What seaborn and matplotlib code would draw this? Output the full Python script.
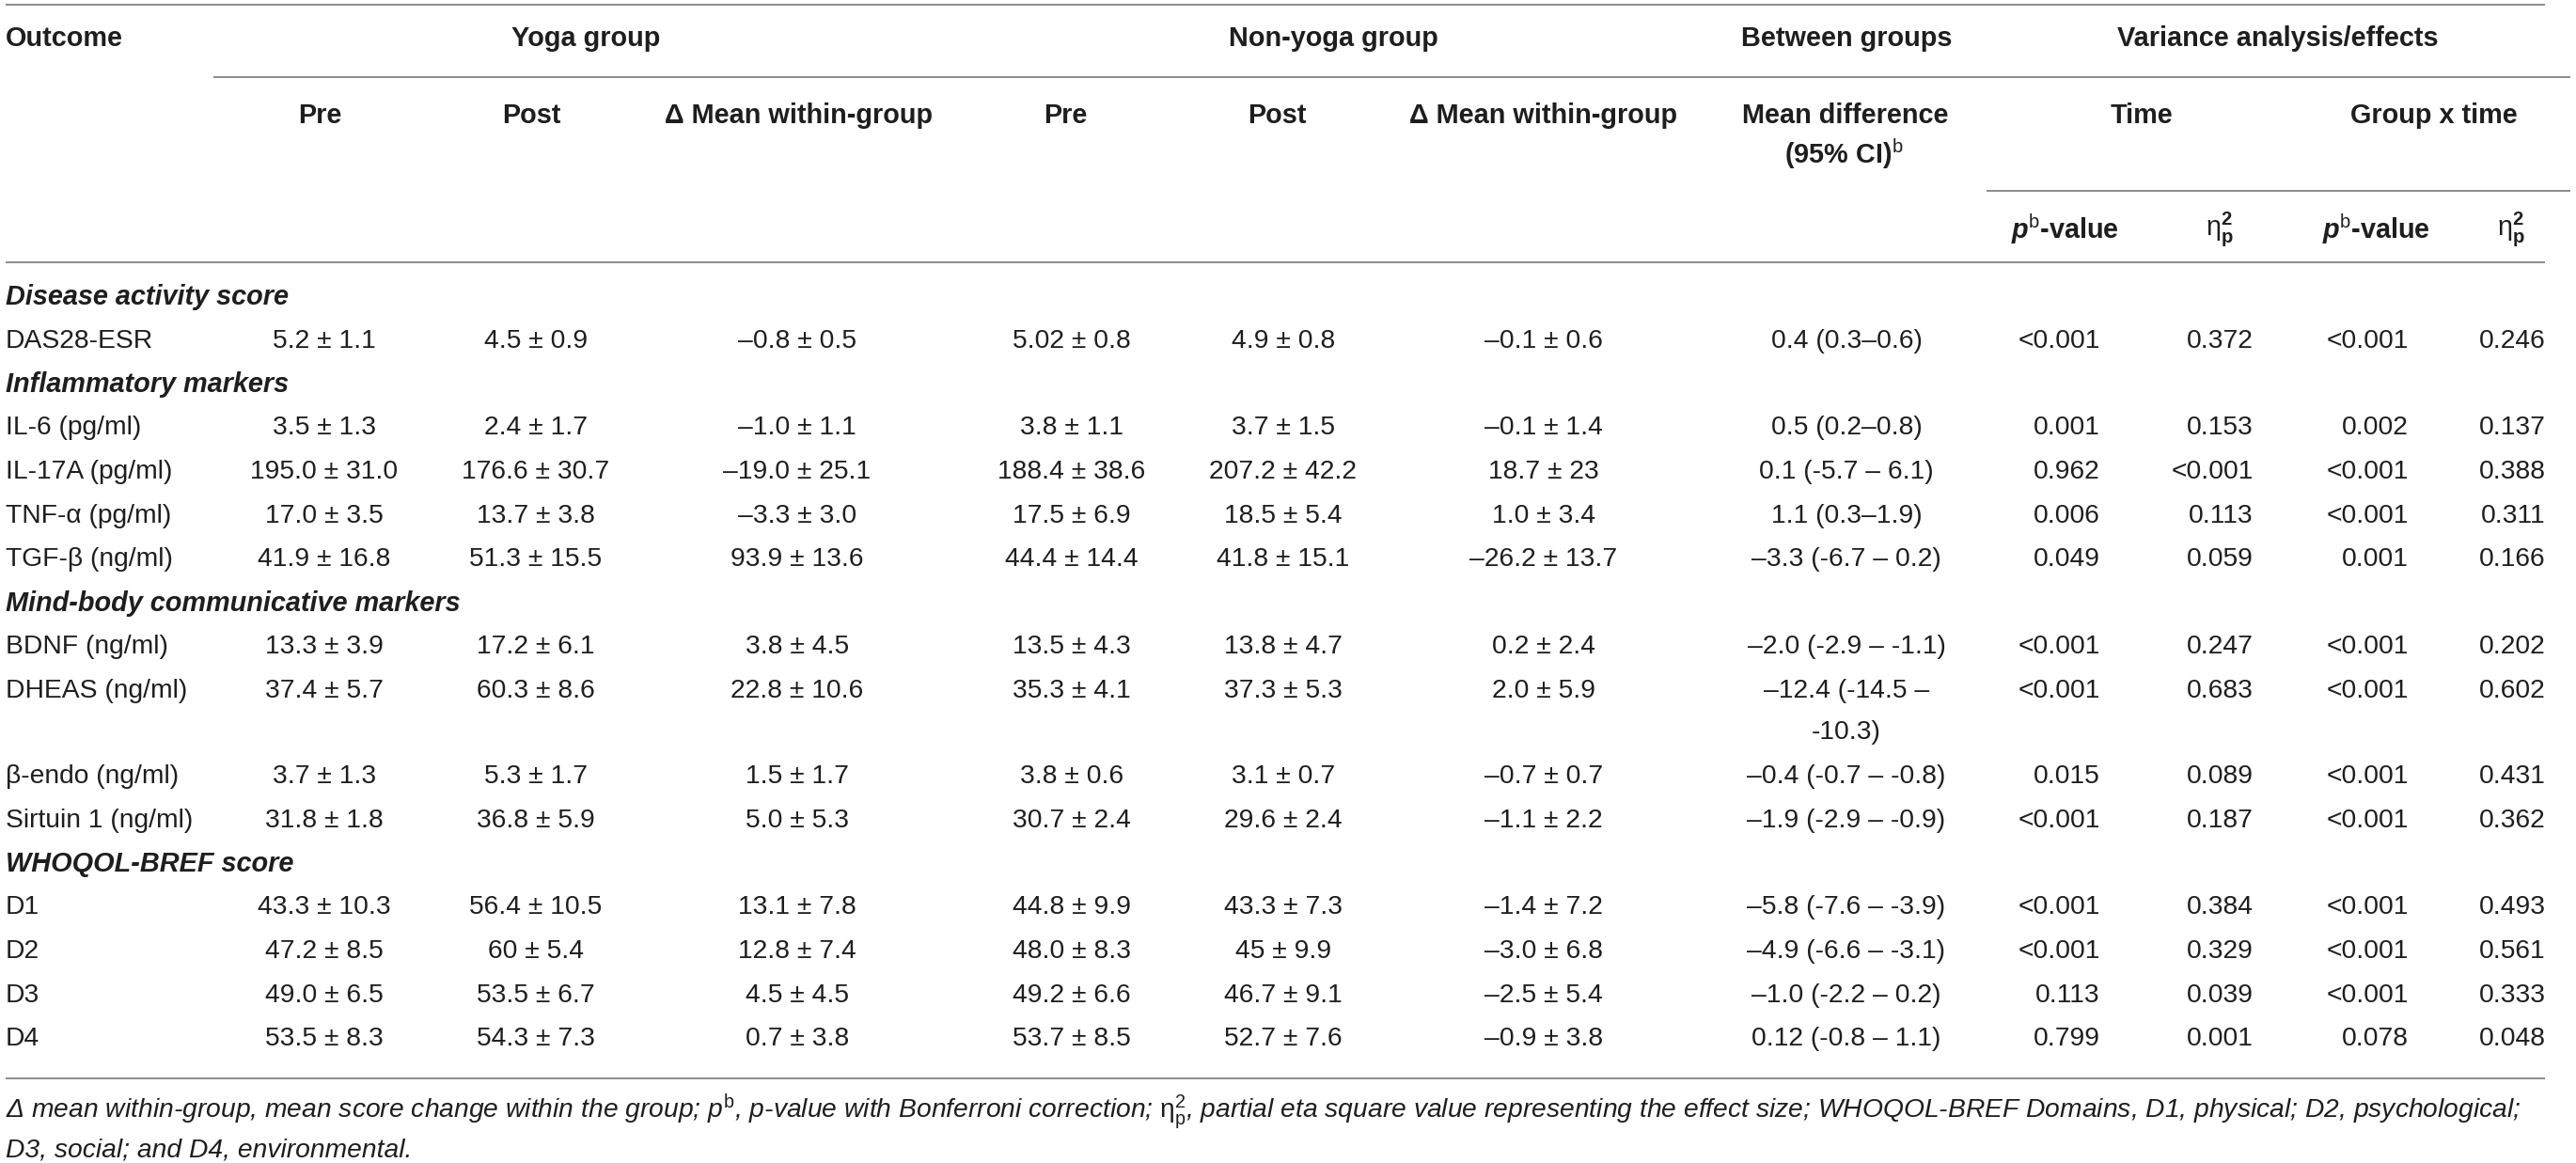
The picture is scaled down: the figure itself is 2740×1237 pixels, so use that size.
import matplotlib
matplotlib.use("Agg")
import matplotlib.pyplot as plt
import seaborn as sns

sns.set_theme(style="white")
plt.rcParams['font.family'] = ['Liberation Sans', 'DejaVu Sans']
plt.rcParams['mathtext.fontset'] = 'custom'
plt.rcParams['mathtext.rm'] = 'Liberation Sans'
plt.rcParams['mathtext.it'] = 'Liberation Sans:italic'
plt.rcParams['mathtext.bf'] = 'Liberation Sans:bold'
plt.rcParams['mathtext.bfit'] = 'Liberation Sans:bold:italic'

# ---------------- data ----------------
outcome = ["Disease activity score", "DAS28-ESR",
           "Inflammatory markers", "IL-6 (pg/ml)", "IL-17A (pg/ml)", "TNF-α (pg/ml)", "TGF-β (ng/ml)",
           "Mind-body communicative markers", "BDNF (ng/ml)", "DHEAS (ng/ml)", "β-endo (ng/ml)", "Sirtuin 1 (ng/ml)",
           "WHOQOL-BREF score", "D1", "D2", "D3", "D4"]
is_section = [True, False, True, False, False, False, False, True, False, False, False, False,
              True, False, False, False, False]
yoga_pre = ["", "5.2 ± 1.1", "", "3.5 ± 1.3", "195.0 ± 31.0", "17.0 ± 3.5", "41.9 ± 16.8", "",
            "13.3 ± 3.9", "37.4 ± 5.7", "3.7 ± 1.3", "31.8 ± 1.8", "",
            "43.3 ± 10.3", "47.2 ± 8.5", "49.0 ± 6.5", "53.5 ± 8.3"]
yoga_post = ["", "4.5 ± 0.9", "", "2.4 ± 1.7", "176.6 ± 30.7", "13.7 ± 3.8", "51.3 ± 15.5", "",
             "17.2 ± 6.1", "60.3 ± 8.6", "5.3 ± 1.7", "36.8 ± 5.9", "",
             "56.4 ± 10.5", "60 ± 5.4", "53.5 ± 6.7", "54.3 ± 7.3"]
yoga_delta = ["", "–0.8 ± 0.5", "", "–1.0 ± 1.1", "–19.0 ± 25.1", "–3.3 ± 3.0", "93.9 ± 13.6", "",
              "3.8 ± 4.5", "22.8 ± 10.6", "1.5 ± 1.7", "5.0 ± 5.3", "",
              "13.1 ± 7.8", "12.8 ± 7.4", "4.5 ± 4.5", "0.7 ± 3.8"]
non_pre = ["", "5.02 ± 0.8", "", "3.8 ± 1.1", "188.4 ± 38.6", "17.5 ± 6.9", "44.4 ± 14.4", "",
           "13.5 ± 4.3", "35.3 ± 4.1", "3.8 ± 0.6", "30.7 ± 2.4", "",
           "44.8 ± 9.9", "48.0 ± 8.3", "49.2 ± 6.6", "53.7 ± 8.5"]
non_post = ["", "4.9 ± 0.8", "", "3.7 ± 1.5", "207.2 ± 42.2", "18.5 ± 5.4", "41.8 ± 15.1", "",
            "13.8 ± 4.7", "37.3 ± 5.3", "3.1 ± 0.7", "29.6 ± 2.4", "",
            "43.3 ± 7.3", "45 ± 9.9", "46.7 ± 9.1", "52.7 ± 7.6"]
non_delta = ["", "–0.1 ± 0.6", "", "–0.1 ± 1.4", "18.7 ± 23", "1.0 ± 3.4", "–26.2 ± 13.7", "",
             "0.2 ± 2.4", "2.0 ± 5.9", "–0.7 ± 0.7", "–1.1 ± 2.2", "",
             "–1.4 ± 7.2", "–3.0 ± 6.8", "–2.5 ± 5.4", "–0.9 ± 3.8"]
mean_diff = ["", "0.4 (0.3–0.6)", "", "0.5 (0.2–0.8)", "0.1 (-5.7 – 6.1)", "1.1 (0.3–1.9)", "–3.3 (-6.7 – 0.2)", "",
             "–2.0 (-2.9 – -1.1)", "–12.4 (-14.5 –\n-10.3)", "–0.4 (-0.7 – -0.8)", "–1.9 (-2.9 – -0.9)", "",
             "–5.8 (-7.6 – -3.9)", "–4.9 (-6.6 – -3.1)", "–1.0 (-2.2 – 0.2)", "0.12 (-0.8 – 1.1)"]
time_p = ["", "<0.001", "", "0.001", "0.962", "0.006", "0.049", "",
          "<0.001", "<0.001", "0.015", "<0.001", "",
          "<0.001", "<0.001", "0.113", "0.799"]
time_eta = ["", "0.372", "", "0.153", "<0.001", "0.113", "0.059", "",
            "0.247", "0.683", "0.089", "0.187", "",
            "0.384", "0.329", "0.039", "0.001"]
gxt_p = ["", "<0.001", "", "0.002", "<0.001", "<0.001", "0.001", "",
         "<0.001", "<0.001", "<0.001", "<0.001", "",
         "<0.001", "<0.001", "<0.001", "0.078"]
gxt_eta = ["", "0.246", "", "0.137", "0.388", "0.311", "0.166", "",
           "0.202", "0.602", "0.431", "0.362", "",
           "0.493", "0.561", "0.333", "0.048"]

group_headers = ["Yoga group", "Non-yoga group", "Between groups", "Variance analysis/effects"]
sub_headers = ["Pre", "Post", "Δ Mean within-group", "Pre", "Post", "Δ Mean within-group"]
effect_headers = ["Time", "Group x time"]
stat_headers = [r"$\mathbfit{p}^{\mathrm{b}}$-value", r"$\mathrm{\eta}^{\mathbf{2}}_{\mathbf{p}}$",
                r"$\mathbfit{p}^{\mathrm{b}}$-value", r"$\mathrm{\eta}^{\mathbf{2}}_{\mathbf{p}}$"]
footnote = [r"Δ mean within-group, mean score change within the group; $p^{\mathrm{b}}$, p-value with Bonferroni correction; "
            r"$\mathrm{\eta}^{2}_{\mathrm{p}}$, partial eta square value representing the effect size; WHOQOL-BREF Domains, D1, physical; D2, psychological;",
            "D3, social; and D4, environmental."]

# ---------------- layout ----------------
W, H = 2740, 1237
fig = plt.figure(figsize=(W / 100, H / 100), dpi=100)
ax = fig.add_axes([0, 0, 1, 1])
ax.set_xlim(0, W)
ax.set_ylim(H, 0)
ax.axis('off')

TXT = '#1e1e1e'
LINE = '#8a8a8a'
FS = 20.3
FSH = 20.8

def hline(y, x0, x1):
    ax.plot([x0, x1], [y, y], color=LINE, lw=1.4, solid_capstyle='butt')

hline(5, 6, 2707)
hline(82, 227, 2734)
hline(203, 2113, 2734)
hline(279, 6, 2707)
hline(1147, 6, 2707)

# header row 1
ax.text(6, 41, "Outcome", fontsize=FSH, fontweight='bold', color=TXT, ha='left', va='center')
for lab, xc in zip(group_headers, [623, 1418, 1964, 2423]):
    ax.text(xc, 41, lab, fontsize=FSH, fontweight='bold', color=TXT, ha='center', va='center')
# header row 2
for lab, xc in zip(sub_headers, [340, 565, 850, 1133, 1358, 1642]):
    ax.text(xc, 123, lab, fontsize=FSH, fontweight='bold', color=TXT, ha='center', va='center')
ax.text(1963, 123, "Mean difference", fontsize=FSH, fontweight='bold', color=TXT, ha='center', va='center')
ax.text(1961, 164, r"(95% CI)$^{\mathrm{b}}$", fontsize=FSH, fontweight='bold', color=TXT, ha='center', va='center')
for lab, xc in zip(effect_headers, [2278, 2589]):
    ax.text(xc, 123, lab, fontsize=FSH, fontweight='bold', color=TXT, ha='center', va='center')
# header row 3
for lab, xc in zip(stat_headers, [2196, 2361, 2527, 2671]):
    ax.text(xc, 244, lab, fontsize=FSH, fontweight='bold', color=TXT, ha='center', va='center')

# body
center_cols = [(yoga_pre, 345), (yoga_post, 570), (yoga_delta, 848),
               (non_pre, 1140), (non_post, 1365), (non_delta, 1642), (mean_diff, 1964)]
right_cols = [(time_p, 2234), (time_eta, 2397), (gxt_p, 2562), (gxt_eta, 2708)]

y = 316
step = 46.5
for i, lab in enumerate(outcome):
    if is_section[i]:
        ax.text(6, y, lab, fontsize=FSH, fontweight='bold', fontstyle='italic', color=TXT, ha='left', va='center')
        y += step
        continue
    ax.text(6, y, lab, fontsize=FS, color=TXT, ha='left', va='center')
    nlines = 1
    for col, xc in center_cols:
        parts = col[i].split("\n")
        nlines = max(nlines, len(parts))
        for k, p in enumerate(parts):
            ax.text(xc, y + k * 45, p, fontsize=FS, color=TXT, ha='center', va='center')
    for col, xr in right_cols:
        ax.text(xr, y, col[i], fontsize=FS, color=TXT, ha='right', va='center')
    y += step + (nlines - 1) * 45

# footnote
ax.text(6, 1182, footnote[0], fontsize=FS, fontstyle='italic', color=TXT, ha='left', va='center')
ax.text(6, 1223, footnote[1], fontsize=FS, fontstyle='italic', color=TXT, ha='left', va='center')

fig.savefig("out.png", dpi=100, facecolor='white')
